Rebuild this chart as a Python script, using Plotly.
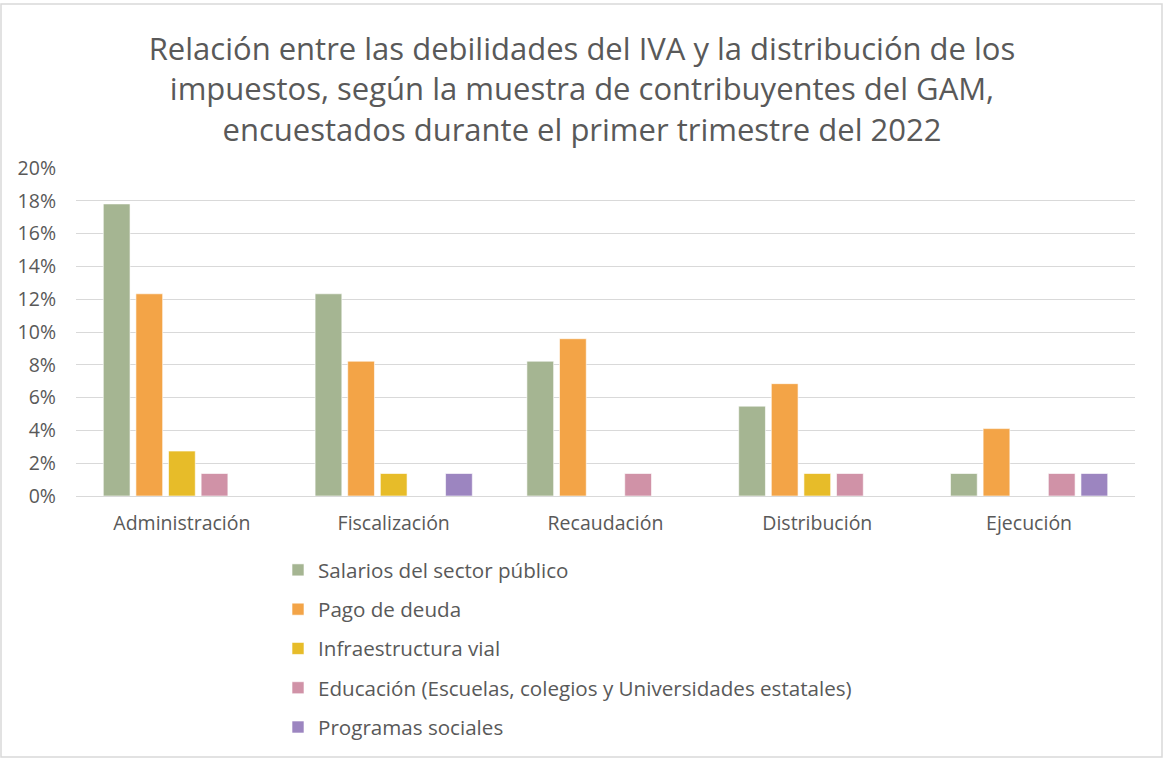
import plotly.graph_objects as go

# Categories and series (share of respondents, n = 73)
categorias = ["Administración", "Fiscalización", "Recaudación", "Distribución", "Ejecución"]

salarios = [0.1781, 0.1233, 0.0822, 0.0548, 0.0137]
deuda = [0.1233, 0.0822, 0.0959, 0.0685, 0.0411]
infraestructura = [0.0274, 0.0137, 0.0, 0.0137, 0.0]
educacion = [0.0137, 0.0, 0.0137, 0.0137, 0.0137]
programas = [0.0, 0.0137, 0.0, 0.0, 0.0137]

series = [
    ("Salarios del sector público", salarios, "#A5B592"),
    ("Pago de deuda", deuda, "#F3A447"),
    ("Infraestructura vial", infraestructura, "#E7BC29"),
    ("Educación (Escuelas, colegios y Universidades estatales)", educacion, "#D092A7"),
    ("Programas sociales", programas, "#9C85C0"),
]

W, H = 1164, 759
L, R, T, B = 76, 29, 168, 263

fig = go.Figure()
for i, (nombre, vals, color) in enumerate(series):
    fig.add_trace(go.Bar(
        x=categorias, y=vals, name=nombre, legendgroup=str(i),
        marker=dict(color=color, line=dict(color="rgba(255,255,255,0.6)", width=1)),
    ))

gris = "#595959"
fig.update_layout(
    width=W, height=H,
    barmode="group", bargap=0.23, bargroupgap=0.18,
    plot_bgcolor="white", paper_bgcolor="white",
    margin=dict(l=L, r=R, t=T, b=B, autoexpand=False),
    font=dict(family="Open Sans, sans-serif", color=gris, size=19.5),
    title=dict(
        text="Relación entre las debilidades del IVA y la distribución de los<br>"
             "impuestos, según la muestra de contribuyentes del GAM,<br>"
             "encuestados durante el primer trimestre del 2022",
        x=0.5, xanchor="center", y=1 - 60 / H, yanchor="top",
        font=dict(size=31, color=gris),
    ),
    xaxis=dict(showline=True, linecolor="#D9D9D9", linewidth=1, ticks="",
               tickangle=0, ticklabelstandoff=10,
               tickfont=dict(size=19.5, color=gris)),
    yaxis=dict(range=[0, 0.2], dtick=0.02, tickformat=".0%", gridcolor="#D9D9D9",
               zeroline=False, ticks="", ticklabelstandoff=19,
               tickfont=dict(size=19.5, color=gris)),
    legend=dict(orientation="v", xref="container", yref="container",
                x=278 / W, xanchor="left", y=1 - 550 / H, yanchor="top",
                tracegroupgap=9.5, font=dict(size=20.6, color=gris),
                itemwidth=30),
    showlegend=True,
)

# light border around the chart
pw, ph = W - L - R, H - T - B
fig.add_shape(type="rect", xref="paper", yref="paper",
              x0=(1 - L) / pw, x1=(W - 2 - L) / pw,
              y0=-(H - 2 - T - ph) / ph, y1=1 + (T - 4) / ph,
              line=dict(color="#D9D9D9", width=1.5), layer="below")

fig.write_html("out.html", config={"displayModeBar": False},
               post_script="document.body.style.margin='0px';")
